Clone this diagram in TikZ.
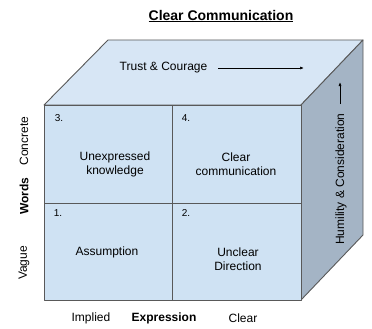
\documentclass[tikz,border=0pt]{standalone}
\usepackage{fontspec}
\setmainfont{Liberation Sans}
\usetikzlibrary{arrows.meta}
\definecolor{topface}{HTML}{D7E6F5}
\definecolor{frontface}{HTML}{CFE2F3}
\definecolor{sideface}{HTML}{A4B4C5}
\definecolor{edgegray}{HTML}{595959}
\begin{document}
\begin{tikzpicture}[x=1pt,y=-1pt,
  face/.style={draw=edgegray,line width=0.9pt,line join=round},
  divider/.style={draw=edgegray,line width=0.9pt},
  lbl/.style={font=\fontsize{12}{14}\selectfont,inner sep=0pt,align=center},
  num/.style={font=\fontsize{10}{12}\selectfont,inner sep=0pt},
  axislbl/.style={font=\fontsize{12}{14}\selectfont,inner sep=0pt},
  dirarrow/.style={-{Latex[length=4pt,width=3pt]},line width=0.7pt}]
\useasboundingbox (0,0) rectangle (372,329);

% cube corners
\coordinate (ftl) at (44,105);
\coordinate (ftr) at (301,105);
\coordinate (fbr) at (301,300);
\coordinate (fbl) at (44,300);
\coordinate (btl) at (108,40);
\coordinate (btr) at (363,40);
\coordinate (bbr) at (363,235);

% faces
\filldraw[face,fill=topface] (ftl) -- (btl) -- (btr) -- (ftr) -- cycle;
\filldraw[face,fill=sideface] (ftr) -- (btr) -- (bbr) -- (fbr) -- cycle;
\filldraw[face,fill=frontface] (ftl) rectangle (fbr);

% quadrant dividers
\coordinate (midtop) at (172,105);
\coordinate (midbot) at (172,300);
\coordinate (midleft) at (44,203);
\coordinate (midright) at (301,203);
\draw[divider] (midtop) -- (midbot);
\draw[divider] (midleft) -- (midright);

% title
\node[inner sep=0pt,font=\fontsize{14}{16}\selectfont\bfseries] (title) at (221,16) {\underline{Clear Communication}};

% top face label and arrow
\node[lbl] (trust) at (163.5,68) {Trust \& Courage};
\coordinate (trustA) at (218,68);
\coordinate (trustB) at (304,68);
\draw[dirarrow] (trustA) -- (trustB);

% side face label and arrow
\node[lbl,rotate=90] (humility) at (341,179) {Humility \& Consideration};
\coordinate (humA) at (340,104);
\coordinate (humB) at (340,82);
\draw[dirarrow] (humA) -- (humB);

% quadrant numbers
\node[num] (n3) at (59,118) {3.};
\node[num] (n4) at (186,118) {4.};
\node[num] (n1) at (58,213) {1.};
\node[num] (n2) at (186,213) {2.};

% quadrant texts
\node[lbl] (q3) at (115,164) {Unexpressed\\knowledge};
\node[lbl] (q4) at (236,164) {Clear\\communication};
\node[lbl] (q1) at (107,252) {Assumption};
\node[lbl] (q2) at (238,259) {Unclear\\Direction};

% vertical axis labels
\node[axislbl,rotate=90] (concrete) at (24,141) {Concrete};
\node[axislbl,rotate=90,font=\fontsize{12}{14}\selectfont\bfseries] (words) at (24,196) {Words};
\node[axislbl,rotate=90] (vague) at (24,263) {Vague};

% horizontal axis labels
\node[axislbl] (implied) at (91,318) {Implied};
\node[axislbl,font=\fontsize{12}{14}\selectfont\bfseries] (expression) at (164,318) {Expression};
\node[axislbl] (clear) at (243,318) {Clear};
\end{tikzpicture}
\end{document}
